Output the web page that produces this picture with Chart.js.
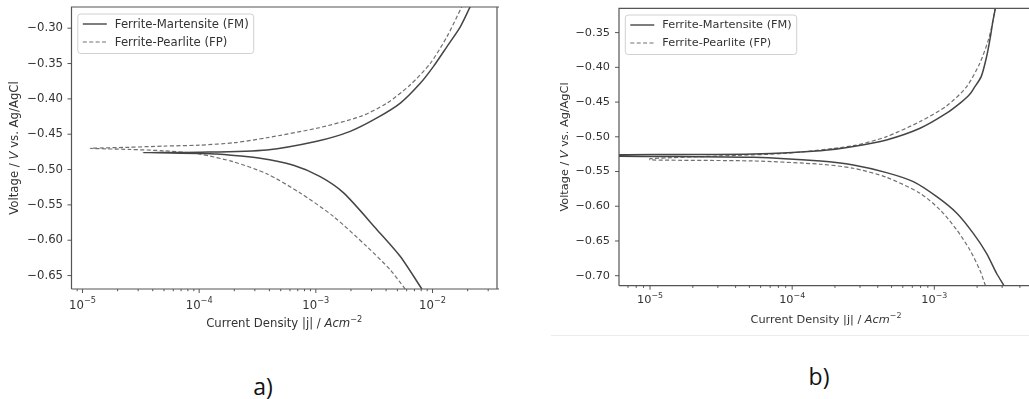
<!DOCTYPE html>
<html><head><meta charset="utf-8">
<script src="https://cdn.jsdelivr.net/npm/chart.js@4.4.1/dist/chart.umd.min.js"></script>
<style>
html,body{margin:0;padding:0;background:#fff;width:1029px;height:399px;overflow:hidden;position:relative;}
#ca{position:absolute;left:0;top:0;}
#cb{position:absolute;left:520px;top:0;}
.lab{position:absolute;font-family:"Open Sans";font-size:23px;color:#111;transform:translate(-50%,-50%);line-height:1;white-space:nowrap;}
#sep{position:absolute;left:551px;top:335px;width:478px;height:0;border-top:1px solid #ececec;}
</style></head>
<body>
<canvas id="ca" width="520" height="340"></canvas>
<canvas id="cb" width="509" height="334"></canvas>
<div id="sep"></div>
<div class="lab" style="left:263px;top:386px;">a)</div>
<div class="lab" style="left:819px;top:376px;">b)</div>
<script>
// ---------- data (current density |j| in A/cm², voltage in V vs Ag/AgCl) ----------
// Figure a)
const fmA_j = [8.1e-3, 5.3e-3, 3.34e-3, 1.73e-3, 1.09e-3, 6.43e-4, 3.33e-4, 1.41e-4, 1.0e-4, 3.3e-5,
               1.0e-4, 3.8e-4, 1.02e-3, 1.97e-3, 3.34e-3, 5.3e-3, 7.85e-3, 1.02e-2, 1.33e-2, 1.73e-2, 2.11e-2];
const fmA_v = [-0.669, -0.623, -0.585, -0.533, -0.510, -0.494, -0.484, -0.478, -0.4772, -0.476,
               -0.4755, -0.4722, -0.460, -0.446, -0.427, -0.406, -0.378, -0.354, -0.326, -0.298, -0.269];
const fpA_j = [5.83e-3, 4.35e-3, 2.74e-3, 1.42e-3, 7.33e-4, 3.8e-4, 1.96e-4, 1.0e-4, 5.0e-5, 2.5e-5, 1.16e-5,
               2.5e-5, 5.0e-5, 1.0e-4, 2.0e-4, 3.8e-4, 1.02e-3, 2.4e-3, 4.07e-3, 6.46e-3, 9.55e-3, 1.33e-2, 1.79e-2];
const fpA_v = [-0.669, -0.642, -0.609, -0.5665, -0.533, -0.506, -0.489, -0.478, -0.4735, -0.4715, -0.470,
               -0.4685, -0.4668, -0.4655, -0.462, -0.455, -0.4415, -0.425, -0.406, -0.380, -0.350, -0.312, -0.269];
// Figure b)
const fmB_j = [3.09e-3, 2.74e-3, 2.33e-3, 1.88e-3, 1.44e-3, 1.04e-3, 7.11e-4, 4.61e-4, 2.69e-4, 1.58e-4, 5.33e-5, 1.5e-5, 5.0e-6,
               5.0e-6, 1.5e-5, 5.33e-5, 1.58e-4, 2.69e-4, 4.61e-4, 7.94e-4, 1.22e-3, 1.55e-3, 1.73e-3, 1.80e-3, 1.90e-3, 2.14e-3, 2.33e-3, 2.48e-3, 2.59e-3, 2.69e-3];
const fmB_v = [-0.7144, -0.6965, -0.6677, -0.639, -0.610, -0.5862, -0.5646, -0.5516, -0.5406, -0.535, -0.5295, -0.5285, -0.5278,
               -0.5262, -0.5255, -0.5247, -0.520, -0.514, -0.5045, -0.4877, -0.466, -0.450, -0.4412, -0.4373, -0.430, -0.413, -0.385, -0.356, -0.332, -0.315];
const fpB_j = [2.29e-3, 2.09e-3, 1.78e-3, 1.44e-3, 1.10e-3, 7.94e-4, 4.61e-4, 2.69e-4, 1.58e-4, 5.33e-5, 1.0e-5,
               1.0e-5, 3.1e-5, 9.14e-5, 2.69e-4, 4.61e-4, 7.94e-4, 1.22e-3, 1.69e-3, 2.09e-3, 2.40e-3, 2.59e-3, 2.67e-3];
const fpB_v = [-0.7144, -0.6918, -0.663, -0.6342, -0.6054, -0.5813, -0.5583, -0.5453, -0.5395, -0.5348, -0.5333,
               -0.5315, -0.5276, -0.5237, -0.5128, -0.4998, -0.478, -0.4556, -0.4278, -0.394, -0.3605, -0.332, -0.315];

// ---------- ticks / labels ----------
const seriesNames = ['Ferrite-Martensite (FM)', 'Ferrite-Pearlite (FP)'];
const xMajorA = [1e-5, 1e-4, 1e-3, 1e-2];
const xExpA = ['\u22125', '\u22124', '\u22123', '\u22122'];
const xMajorB = [1e-5, 1e-4, 1e-3];
const xExpB = ['\u22125', '\u22124', '\u22123'];
const yTicksA = [-0.30, -0.35, -0.40, -0.45, -0.50, -0.55, -0.60, -0.65];
const yTicksB = [-0.35, -0.40, -0.45, -0.50, -0.55, -0.60, -0.65, -0.70];
const rangeA = {xmin: 8.05e-6, xmax: 3.57e-2, ymin: -0.669, ymax: -0.27};
const rangeB = {xmin: 6.05e-6, xmax: 4.56e-3, ymin: -0.7144, ymax: -0.315};

const SOLID = '#454545', DASH = '#707070', FRAME = '#555', TEXT = '#333';

function pts(js, vs) { return js.map((j, i) => ({x: j, y: vs[i]})); }
function minorTicks(min, max) {
  const out = [];
  const lo = Math.floor(Math.log10(min)), hi = Math.ceil(Math.log10(max));
  for (let e = lo; e <= hi; e++) for (let k = 2; k <= 9; k++) {
    const v = k * Math.pow(10, e);
    if (v >= min && v <= max) out.push(v);
  }
  return out;
}
function drawRich(ctx, segs, x, y, rot) {
  ctx.save(); ctx.translate(x, y); ctx.rotate(rot || 0);
  ctx.textBaseline = 'middle'; ctx.fillStyle = TEXT; ctx.textAlign = 'left';
  let w = 0;
  segs.forEach(s => { ctx.font = s.f; s.w = ctx.measureText(s.t).width; w += s.w; });
  let cx = -w / 2;
  segs.forEach(s => { ctx.font = s.f; ctx.fillText(s.t, cx, s.dy || 0); cx += s.w; });
  ctx.restore();
}

const insetPlugin = {
  id: 'inset',
  afterDatasetsDraw(chart, args, o) {
    const ctx = chart.ctx, a = chart.chartArea, xs = chart.scales.x, ys = chart.scales.y;
    const fs = o.fs;
    const nf = fs + 'px "DejaVu Sans"', itf = 'oblique ' + fs + 'px "DejaVu Sans"', sup = (fs * 0.7).toFixed(1) + 'px "DejaVu Sans"';
    ctx.save();
    // frame
    ctx.strokeStyle = FRAME; ctx.lineWidth = 1.2;
    ctx.beginPath();
    if (o.right) { ctx.moveTo(a.right, a.top); ctx.lineTo(a.right, a.bottom); }
    ctx.moveTo(a.left, a.bottom); ctx.lineTo(a.left, a.top); ctx.lineTo(a.right + 2, a.top);
    ctx.moveTo(a.left, a.bottom); ctx.lineTo(a.right + 2, a.bottom);
    ctx.stroke();
    // tick marks
    ctx.lineWidth = 1; ctx.strokeStyle = FRAME;
    ctx.beginPath();
    o.xMajor.forEach(v => { const p = xs.getPixelForValue(v); if (p >= a.left - 0.5 && p <= a.right + 0.5) { ctx.moveTo(p, a.bottom); ctx.lineTo(p, a.bottom + 4); } });
    o.xMinor.forEach(v => { const p = xs.getPixelForValue(v); if (p >= a.left - 0.5 && p <= a.right + 0.5) { ctx.moveTo(p, a.bottom); ctx.lineTo(p, a.bottom + 2.2); } });
    o.yTicks.forEach(v => { const p = ys.getPixelForValue(v); ctx.moveTo(a.left, p); ctx.lineTo(a.left - 4, p); });
    ctx.stroke();
    // legend
    ctx.font = nf;
    const tw = Math.max(...seriesNames.map(s => ctx.measureText(s).width));
    const bx = a.left + o.lgx, by = a.top + o.lgy, bw = 37 + tw + 5, bh = 39.5;
    ctx.fillStyle = 'rgba(255,255,255,0.85)'; ctx.strokeStyle = '#d0d0d0'; ctx.lineWidth = 1;
    ctx.beginPath();
    if (ctx.roundRect) ctx.roundRect(bx, by, bw, bh, 3); else ctx.rect(bx, by, bw, bh);
    ctx.fill(); ctx.stroke();
    const rows = [by + 10, by + 28];
    [[SOLID, [], 1.4], [DASH, [4, 2.4], 1.2]].forEach((st, i) => {
      ctx.strokeStyle = st[0]; ctx.setLineDash(st[1]); ctx.lineWidth = st[2];
      ctx.beginPath(); ctx.moveTo(bx + 5, rows[i]); ctx.lineTo(bx + 29, rows[i]); ctx.stroke();
    });
    ctx.setLineDash([]);
    ctx.fillStyle = TEXT; ctx.textBaseline = 'middle'; ctx.textAlign = 'left';
    seriesNames.forEach((s, i) => ctx.fillText(s, bx + 37, rows[i] + 0.5));
    ctx.restore();
    // x tick labels (10 with superscript exponent)
    o.xMajor.forEach((v, i) => {
      const p = xs.getPixelForValue(v);
      drawRich(ctx, [{t: '10', f: nf}, {t: o.xExp[i], f: sup, dy: -4.5}], p, o.xly, 0);
    });
    // axis titles
    drawRich(ctx, [{t: 'Current Density |j| / ', f: nf}, {t: 'Acm', f: itf}, {t: '\u22122', f: sup, dy: -4.5}],
             (a.left + a.right) / 2 + o.xtdx, o.xty, 0);
    drawRich(ctx, [{t: 'Voltage / ', f: nf}, {t: 'V', f: itf}, {t: ' vs. Ag/AgCl', f: nf}],
             o.ytx, (a.top + a.bottom) / 2, -Math.PI / 2);
  }
};

function makeChart(id, fm, fp, range, xMajor, xExp, yTicks, opt) {
  const xMinor = minorTicks(range.xmin, range.xmax);
  return new Chart(document.getElementById(id), {
    type: 'scatter',
    data: {
      datasets: [
        {label: seriesNames[0], data: fm, showLine: true, borderColor: SOLID, borderWidth: 1.5, pointRadius: 0, tension: 0.25, fill: false},
        {label: seriesNames[1], data: fp, showLine: true, borderColor: DASH, borderWidth: 1.2, borderDash: [4, 2.4], pointRadius: 0, tension: 0.25, fill: false}
      ]
    },
    options: {
      responsive: false, animation: false, devicePixelRatio: 1,
      layout: {padding: {top: opt.padTop, right: opt.padRight, left: 0, bottom: 0}},
      plugins: {
        legend: {display: false}, tooltip: {enabled: false},
        inset: {fs: opt.fs, right: opt.rightFrame, xMajor: xMajor, xExp: xExp, xMinor: xMinor, yTicks: yTicks,
                lgx: opt.lgx, lgy: opt.lgy, xty: opt.xty, xly: opt.xly, xtdx: opt.xtdx, ytx: opt.ytx}
      },
      scales: {
        x: {
          type: 'logarithmic', min: range.xmin, max: range.xmax,
          grid: {display: false, drawTicks: false}, border: {display: false},
          afterBuildTicks: s => { s.ticks = xMajor.map(v => ({value: v, major: true})); },
          ticks: {display: false},
          afterFit: s => { s.height = opt.xh; s.paddingLeft = 0; s.paddingRight = 0; }
        },
        y: {
          type: 'linear', min: range.ymin, max: range.ymax,
          grid: {display: false, drawTicks: false}, border: {display: false},
          afterBuildTicks: s => { s.ticks = yTicks.map(v => ({value: v})); },
          ticks: {autoSkip: false, padding: opt.ypad, color: TEXT,
                  font: {family: 'DejaVu Sans', size: opt.fs},
                  callback: v => v.toFixed(2).replace('-', '\u2212')},
          afterFit: s => { s.width = opt.yw; s.paddingTop = 0; s.paddingBottom = 0; }
        }
      }
    },
    plugins: [insetPlugin]
  });
}

makeChart('ca', pts(fmA_j, fmA_v), pts(fpA_j, fpA_v), rangeA, xMajorA, xExpA, yTicksA,
  {fs: 11.7, padTop: 7, padRight: 23, xh: 51, yw: 71.5, ypad: 8.5, rightFrame: true,
   lgx: 6.3, lgy: 7, xty: 324, xly: 305.5, xtdx: 0, ytx: 15});
makeChart('cb', pts(fmB_j, fmB_v), pts(fpB_j, fpB_v), rangeB, xMajorB, xExpB, yTicksB,
  {fs: 11.3, padTop: 8.3, padRight: 1, xh: 48.3, yw: 99, ypad: 9, rightFrame: false,
   lgx: 6.3, lgy: 6.7, xty: 320, xly: 300.5, xtdx: 2.5, ytx: 45});
</script>
</body></html>
